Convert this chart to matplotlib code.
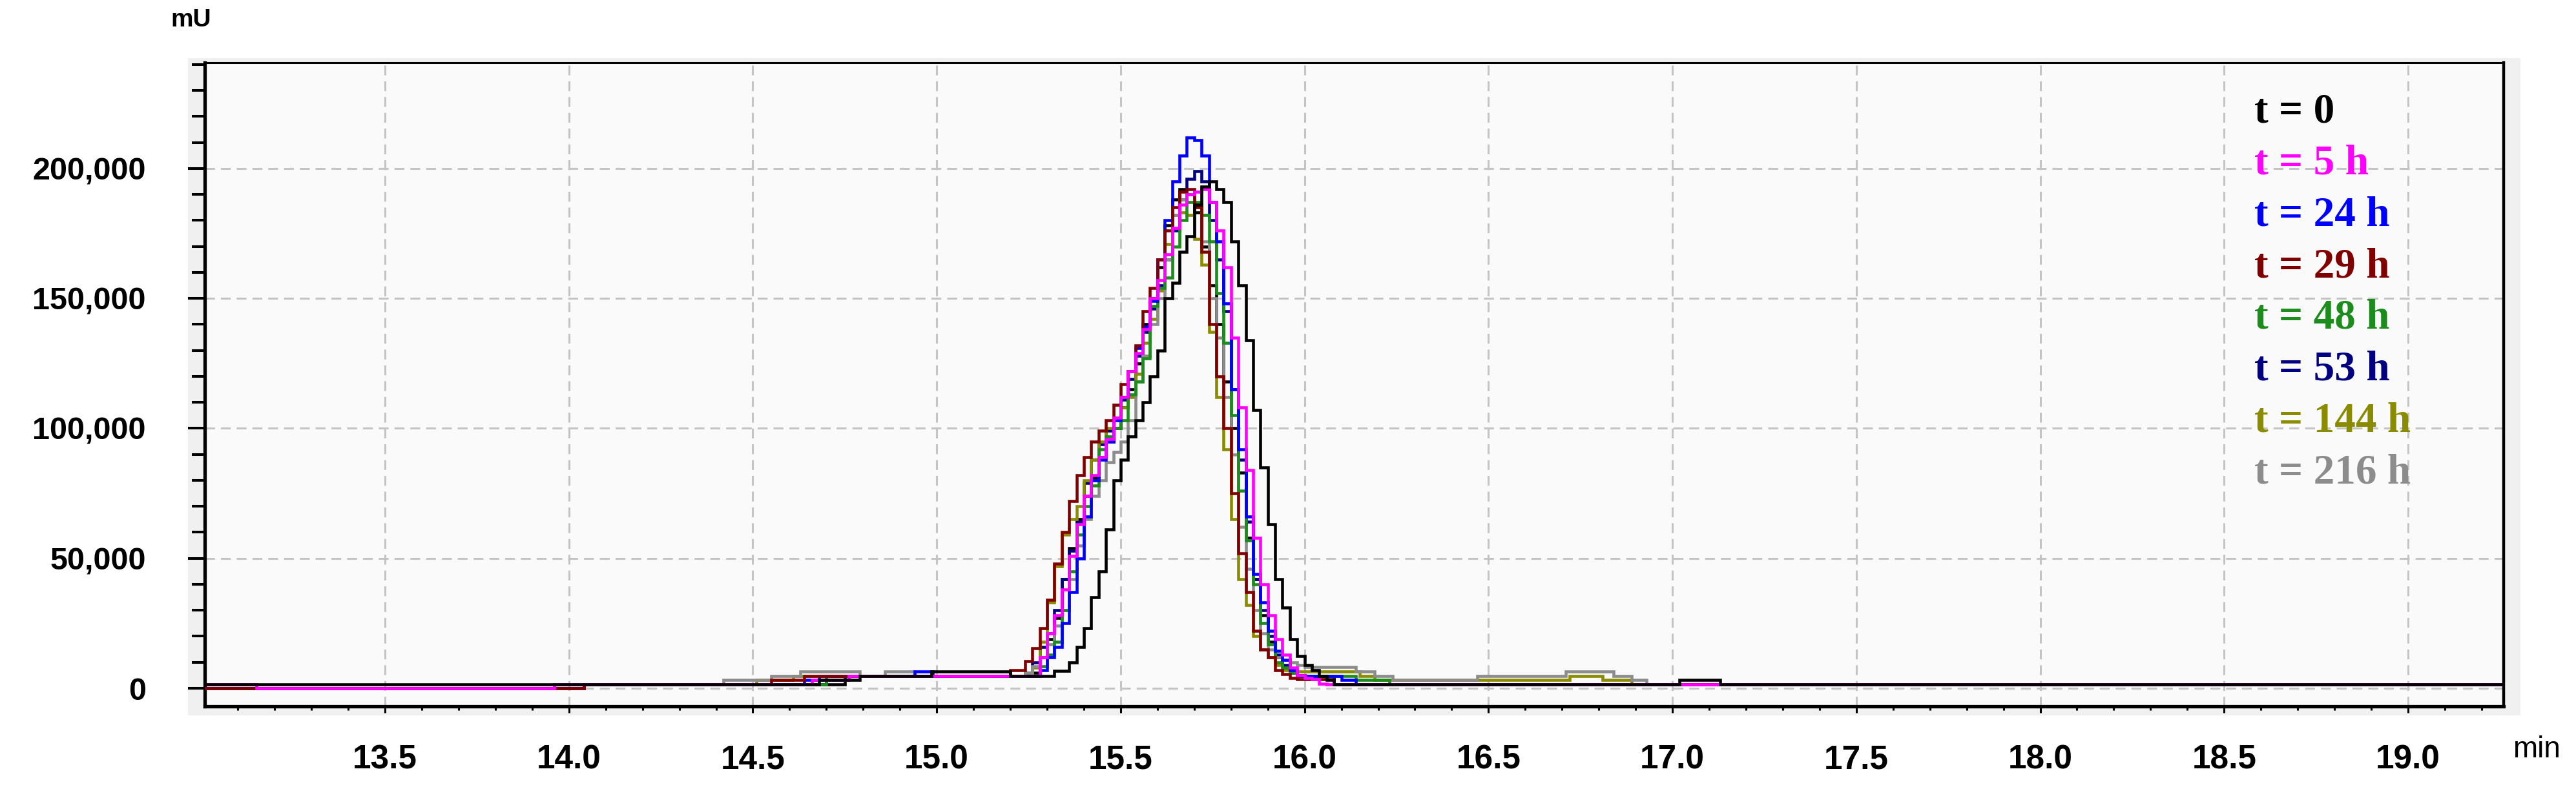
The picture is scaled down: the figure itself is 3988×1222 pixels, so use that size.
#%% imports

import matplotlib
matplotlib.use('Agg')
import matplotlib.pyplot as plt
from matplotlib.patches import Rectangle
from matplotlib.ticker import MultipleLocator, FuncFormatter

#%% data  (time in min, signal in thousands of mU)

# shared time grid through the peak
t_peak = [15.20, 15.22, 15.24, 15.26, 15.28, 15.30, 15.32, 15.34, 15.36, 15.38,
          15.40, 15.42, 15.44, 15.46, 15.48, 15.50, 15.52, 15.54, 15.56, 15.58,
          15.60, 15.62, 15.64, 15.66, 15.68, 15.70, 15.72, 15.74, 15.76, 15.78,
          15.80, 15.82, 15.84, 15.86, 15.88, 15.90, 15.92, 15.94, 15.96, 15.98,
          16.00, 16.02, 16.04, 16.06]

# t = 0
h0_pre_t = [13.01, 14.68, 14.79, 14.985]
h0_pre_y = [1.5, 3.2, 4.8, 6.5]
h0_peak = [4.8, 4.8, 4.8, 4.8, 4.8, 4.8, 6.7, 6.7, 10, 16,
           23, 35, 45, 61, 80, 88, 97, 103, 110, 120,
           130, 150, 156, 168, 174, 186, 193, 195, 192, 187,
           172, 155, 134, 107, 85, 63, 42, 31, 19, 12.5,
           9, 7, 4.8, 3.2]
h0_post_t = [16.08, 17.02, 17.13, 19.26]
h0_post_y = [1.5, 3.2, 1.5, 1.5]

# t = 5 h
h5_pre_t = [13.01, 13.15, 13.96, 14.66, 14.76]
h5_pre_y = [1.5, 0, 1.5, 3.2, 4.8]
h5_peak = [4.8, 4.8, 4.8, 4.8, 12, 21, 28, 38, 51, 63,
           74, 82, 89, 96, 104, 112, 122, 129, 138, 150,
           157, 167, 177, 186, 190, 191, 192, 187, 176, 162,
           135, 108, 84, 58, 40, 28, 19, 13, 8, 5,
           4, 3.4, 1.7, 1.5]
h5_post_t = [16.08, 19.26]
h5_post_y = [1.5, 1.5]

# t = 24 h
h24_pre_t = [13.01, 14.04, 14.64, 14.68, 14.94, 14.99]
h24_pre_y = [0, 1.5, 3.2, 4.8, 6.5, 4.8]
h24_peak = [4.8, 4.8, 4.8, 4.8, 7, 12, 16, 25, 37, 50,
            66, 80, 88, 95, 103, 112, 122, 131, 139, 149,
            165, 180, 195, 205, 212, 211, 205, 187, 172, 148,
            115, 92, 66, 44, 33, 22, 14.5, 11, 7, 5,
            4.8, 4.8, 4.8, 4.8]
h24_post_t = [16.10, 16.14, 19.26]
h24_post_y = [3.2, 1.5, 1.5]

# t = 29 h
h29_pre_t = [13.01, 14.04, 14.55, 14.64]
h29_pre_y = [0, 1.5, 3.2, 4.8]
h29_peak = [7, 7, 10.5, 15.4, 23, 34, 48, 60, 72, 82,
            89, 95, 99, 103, 109, 117, 122, 132, 145, 154,
            165, 176, 185, 191, 192, 185, 168, 140, 120, 100,
            75, 52, 37, 22, 15, 12, 7, 5.5, 4, 3.4,
            3.4, 3.4, 3.4, 3.4]
h29_post_t = [16.08, 19.26]
h29_post_y = [1.5, 1.5]

# t = 48 h
h48_pre_t = [13.01, 14.04, 14.70]
h48_pre_y = [0, 1.5, 4.8]
h48_peak = [4.8, 4.8, 4.8, 4.8, 8.4, 13, 18, 30, 45, 59,
            70, 78, 92, 97, 100, 103, 113, 118, 127, 147,
            154, 158, 170, 180, 187, 187, 182, 172, 152, 133,
            105, 76, 57, 40, 25, 17, 10, 8, 6, 5,
            4.8, 4.8, 4.8, 4.8]
h48_post_t = [16.14, 16.23, 19.26]
h48_post_y = [3.2, 1.5, 1.5]

# t = 53 h
h53_pre_t = [13.01, 14.04, 14.70]
h53_pre_y = [0, 1.5, 4.8]
h53_peak = [4.8, 4.8, 6, 10, 16, 21, 30, 42, 53, 64,
            79, 88, 94, 99, 104, 111, 119, 128, 137, 146,
            155, 165, 176, 188, 196, 199, 195, 180, 165, 145,
            115, 88, 64, 42, 30, 20, 13, 9, 6, 4.8,
            4.8, 4.8, 4.8, 4.8]
h53_post_t = [16.08, 19.26]
h53_post_y = [1.5, 1.5]

# t = 144 h
h144_pre_t = [13.01, 14.04, 14.51, 14.61]
h144_pre_y = [0, 1.5, 3.2, 4.8]
h144_peak = [4.8, 4.8, 4.8, 8, 18, 33, 47, 59, 65, 70,
             80, 88, 95, 100, 104, 108, 112, 121, 133, 142,
             153, 171, 182, 183, 182, 173, 163, 137, 112, 92,
             65, 42, 32, 20, 15, 12, 9, 7, 6.5, 6.5,
             6.5, 6.5, 6.5, 6.5]
h144_post_t = [16.15, 16.19, 16.72, 16.81, 16.89, 19.26]
h144_post_y = [4.8, 3.2, 4.8, 3.2, 1.5, 1.5]

# t = 216 h
h216_pre_t = [13.01, 14.04, 14.42, 14.55, 14.63, 14.79, 14.86, 14.94]
h216_pre_y = [0, 1.5, 3.2, 4.8, 6.5, 4.8, 6.5, 4.8]
h216_peak = [4.8, 4.8, 6, 8.4, 12, 17, 24, 30, 42, 55,
             65, 74, 80, 87, 91, 95, 103, 118, 128, 140,
             150, 165, 182, 188, 190, 186, 172, 150, 135, 112,
             90, 62, 46, 30, 21, 15, 12, 11, 10, 9,
             8.1, 8.1, 8.1, 8.1]
h216_post_t = [16.14, 16.19, 16.24, 16.47, 16.71, 16.84, 16.89, 16.93, 19.26]
h216_post_y = [6.5, 4.8, 3.2, 4.8, 6.5, 4.8, 3.2, 1.5, 1.5]

# unlabelled dark trace inside the cluster
hx_pre_t = [13.01, 14.04, 14.75]
hx_pre_y = [0, 1.5, 4.8]
hx_peak = [4.8, 4.8, 4.8, 6, 12, 19, 27, 42, 54, 65,
           74, 81, 89, 95, 100, 108, 115, 125, 140, 150,
           162, 178, 188, 192, 190, 183, 170, 155, 140, 118,
           100, 83, 58, 42, 28, 18, 12, 8, 6, 4.8,
           4.8, 4.8, 4.8, 4.8]
hx_post_t = [16.08, 19.26]
hx_post_y = [1.5, 1.5]

labels = ['t = 0', 't = 5 h', 't = 24 h', 't = 29 h',
          't = 48 h', 't = 53 h', 't = 144 h', 't = 216 h']
colors = ['#000000', '#ff00ff', '#0000ff', '#800000',
          '#1c8c1c', '#000080', '#8b8b00', '#8c8c8c']

#%% figure

W, H = 3988, 1222
fig = plt.figure(figsize=(W / 100, H / 100), dpi=100)

# light grey block behind the plot frame
fig.add_artist(Rectangle((291 / W, 1 - 1108 / H), (3902 - 291) / W, (1108 - 90) / H,
                         transform=fig.transFigure, facecolor='#f0f0f0',
                         edgecolor='none', zorder=-5))

ax = fig.add_axes([317 / W, 1 - 1093.5 / H, (3876 - 317) / W, (1093.5 - 97.4) / H])
ax.set_facecolor('#fafafa')

traces = [
    (hx_pre_t, hx_pre_y, hx_peak, hx_post_t, hx_post_y, '#000000'),
    (h53_pre_t, h53_pre_y, h53_peak, h53_post_t, h53_post_y, colors[5]),
    (h144_pre_t, h144_pre_y, h144_peak, h144_post_t, h144_post_y, colors[6]),
    (h216_pre_t, h216_pre_y, h216_peak, h216_post_t, h216_post_y, colors[7]),
    (h48_pre_t, h48_pre_y, h48_peak, h48_post_t, h48_post_y, colors[4]),
    (h24_pre_t, h24_pre_y, h24_peak, h24_post_t, h24_post_y, colors[2]),
    (h29_pre_t, h29_pre_y, h29_peak, h29_post_t, h29_post_y, colors[3]),
    (h5_pre_t, h5_pre_y, h5_peak, h5_post_t, h5_post_y, colors[1]),
    (h0_pre_t, h0_pre_y, h0_peak, h0_post_t, h0_post_y, colors[0]),
]

for pre_t, pre_y, peak, post_t, post_y, c in traces:
    t = pre_t + t_peak + post_t
    y = [v * 1000 for v in pre_y + peak + post_y]
    ax.plot(t, y, color=c, lw=3.3, drawstyle='steps-post', zorder=3,
            solid_joinstyle='miter')

ax.set_xlim(13.01, 19.26)
ax.set_ylim(-6830, 240600)

ax.xaxis.set_major_locator(MultipleLocator(0.5))
ax.xaxis.set_minor_locator(MultipleLocator(0.1))
ax.yaxis.set_major_locator(MultipleLocator(50000))
ax.yaxis.set_minor_locator(MultipleLocator(10000))
ax.yaxis.set_major_formatter(FuncFormatter(lambda v, p: f'{v:,.0f}'))
ax.xaxis.set_major_formatter(FuncFormatter(lambda v, p: f'{v:.1f}'))

ax.grid(True, which='major', color='#c4c4c4', lw=2.2, linestyle=(0, (5, 3)), zorder=1)
ax.set_axisbelow(True)

for sp in ['left', 'bottom']:
    ax.spines[sp].set_linewidth(3.8)
ax.spines['right'].set_linewidth(3.2)
ax.spines['top'].set_linewidth(2.2)

ax.tick_params(axis='y', which='major', direction='out', length=18.7, width=2.9, pad=47,
               labelsize=35)
ax.tick_params(axis='y', which='minor', direction='out', length=14.4, width=2.9)
ax.tick_params(axis='x', which='major', direction='out', length=7.2, width=2.2, pad=35,
               labelsize=37)
ax.tick_params(axis='x', which='minor', direction='out', length=4.3, width=2.2)

for lab in ax.get_yticklabels() + ax.get_xticklabels():
    lab.set_family(['Liberation Sans', 'DejaVu Sans'])
    lab.set_fontweight('bold')

# finer dashes on the zero line
ax.get_ygridlines()[0].set_dashes([1.8, 1.8])

# coloured legend text
for i, (lab, c) in enumerate(zip(labels, colors)):
    ax.text(0.8915, 0.908 - i * 0.0803, lab, color=c, transform=ax.transAxes,
            family=['Liberation Serif', 'DejaVu Serif'], fontweight='bold',
            fontsize=47, va='baseline', ha='left', zorder=6)

fig.text(296 / W, 1 - 31 / H, 'mU', fontsize=28, fontweight='bold',
         ha='center', va='center', family=['Liberation Sans', 'DejaVu Sans'])
fig.text(3927 / W, 1 - 1161 / H, 'min', fontsize=33,
         family=['Liberation Sans', 'DejaVu Sans'], ha='center', va='center')

fig.savefig('out.png', dpi=100)
